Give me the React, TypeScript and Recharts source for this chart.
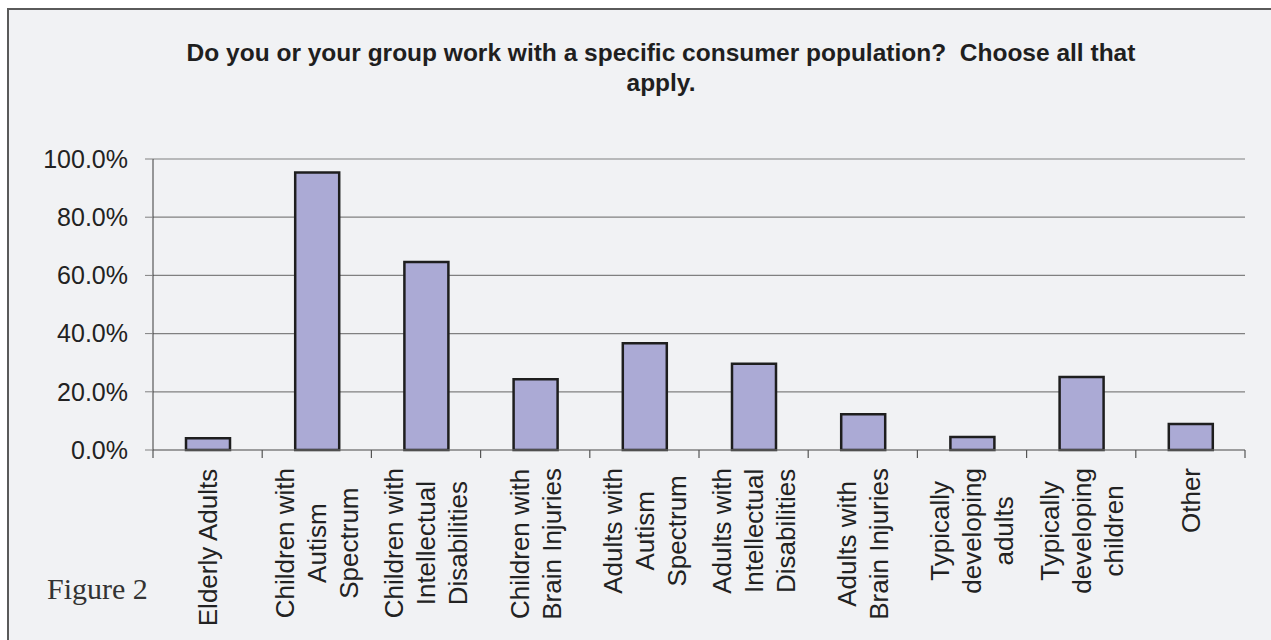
import { Bar, BarChart, CartesianGrid, XAxis, YAxis } from "recharts";

const TITLE_LINES = [
  "Do you or your group work with a specific consumer population?\u00a0 Choose all that",
  "apply.",
];

const categories = [
  "Elderly Adults",
  "Children with\nAutism\nSpectrum",
  "Children with\nIntellectual\nDisabilities",
  "Children with\nBrain Injuries",
  "Adults with\nAutism\nSpectrum",
  "Adults with\nIntellectual\nDisabilities",
  "Adults with\nBrain Injuries",
  "Typically\ndeveloping\nadults",
  "Typically\ndeveloping\nchildren",
  "Other",
];

// share of respondents, %
const percents = [4.0, 95.4, 64.6, 24.3, 36.7, 29.6, 12.3, 4.5, 25.1, 8.9];

const yTicks = [0, 20, 40, 60, 80, 100];

const data = categories.map((name, i) => ({ name, pct: percents[i] }));

const SANS = "'Liberation Sans', Arial, sans-serif";
const LABEL_SIZE = 26;
const LINE_H = 32;
const LABEL_GAP = 18;
const TICK_LEN = 8;

let ctx: CanvasRenderingContext2D | null = null;
function textWidth(s: string) {
  if (!ctx) ctx = document.createElement("canvas").getContext("2d");
  if (!ctx) return s.length * LABEL_SIZE * 0.5;
  ctx.font = `${LABEL_SIZE}px ${SANS}`;
  return ctx.measureText(s).width;
}

/** Etichetta ruotata di 90°, righe centrate fra loro, blocco allineato in alto;
 *  tacche dell'asse ai bordi della categoria (stile Excel). */
function CategoryTick(props: any) {
  const { x, y, payload, index, visibleTicksCount } = props;
  const half = payload?.offset ?? 0;
  const axisY = y - LABEL_GAP;
  const lines = String(payload.value).split("\n");
  const maxW = Math.max(...lines.map(textWidth));
  const isLast = index === (visibleTicksCount ?? categories.length) - 1;
  return (
    <g>
      <line x1={x - half} x2={x - half} y1={axisY} y2={axisY + TICK_LEN} stroke="#555" strokeWidth={1.2} />
      {isLast ? (
        <line x1={x + half} x2={x + half} y1={axisY} y2={axisY + TICK_LEN} stroke="#555" strokeWidth={1.2} />
      ) : null}
      <g transform={`translate(${x},${y}) rotate(-90)`}>
        {lines.map((ln, i) => (
          <text
            key={i}
            x={-maxW / 2}
            y={(i - (lines.length - 1) / 2) * LINE_H}
            dy="0.36em"
            textAnchor="middle"
            fontFamily={SANS}
            fontSize={LABEL_SIZE}
            fill="#222"
          >
            {ln}
          </text>
        ))}
      </g>
    </g>
  );
}

export default function App() {
  return (
    <div
      style={{
        position: "absolute",
        left: 0,
        top: 0,
        width: 1271,
        height: 640,
        overflow: "hidden",
        background: "#fff",
      }}
    >
      <div
        style={{
          position: "absolute",
          left: 7,
          top: 8,
          width: 1400,
          height: 800,
          borderLeft: "2px solid #5a5a5a",
          borderTop: "2px solid #5a5a5a",
          background: "#f1f2f4",
        }}
      />
      <div
        style={{
          position: "absolute",
          left: 0,
          width: 1322,
          top: 38,
          textAlign: "center",
          fontFamily: SANS,
          fontWeight: "bold",
          fontSize: 24.5,
          lineHeight: "30px",
          color: "#1f1f1f",
          whiteSpace: "pre",
        }}
      >
        {TITLE_LINES[0]}
        {"\n"}
        {TITLE_LINES[1]}
      </div>
      <div
        style={{
          position: "absolute",
          left: 47,
          top: 572,
          fontFamily: "'Liberation Serif', serif",
          fontSize: 30,
          color: "#333",
        }}
      >
        Figure 2
      </div>
      <div style={{ position: "absolute", left: 0, top: 0 }}>
        <BarChart
          width={1271}
          height={640}
          data={data}
          margin={{ top: 159, right: 26, bottom: 0, left: 0 }}
          barCategoryGap="0%"
        >
          <CartesianGrid vertical={false} stroke="#808080" strokeWidth={1.2} />
          <XAxis
            dataKey="name"
            interval={0}
            height={190}
            axisLine={{ stroke: "#808080", strokeWidth: 1.2 }}
            tickLine={false}
            tickSize={0}
            tickMargin={LABEL_GAP}
            tick={<CategoryTick />}
          />
          <YAxis
            domain={[0, 100]}
            ticks={yTicks}
            width={153}
            tickSize={8}
            tickMargin={17}
            tickFormatter={(v: number) => `${v.toFixed(1)}%`}
            tick={{ fontFamily: SANS, fontSize: 25, fill: "#222" }}
            axisLine={{ stroke: "#3a3a3a" }}
            tickLine={{ stroke: "#808080" }}
          />
          <Bar
            dataKey="pct"
            barSize={44}
            fill="#abaad5"
            stroke="#1e1e1e"
            strokeWidth={2.5}
            isAnimationActive={false}
          />
        </BarChart>
      </div>
    </div>
  );
}
